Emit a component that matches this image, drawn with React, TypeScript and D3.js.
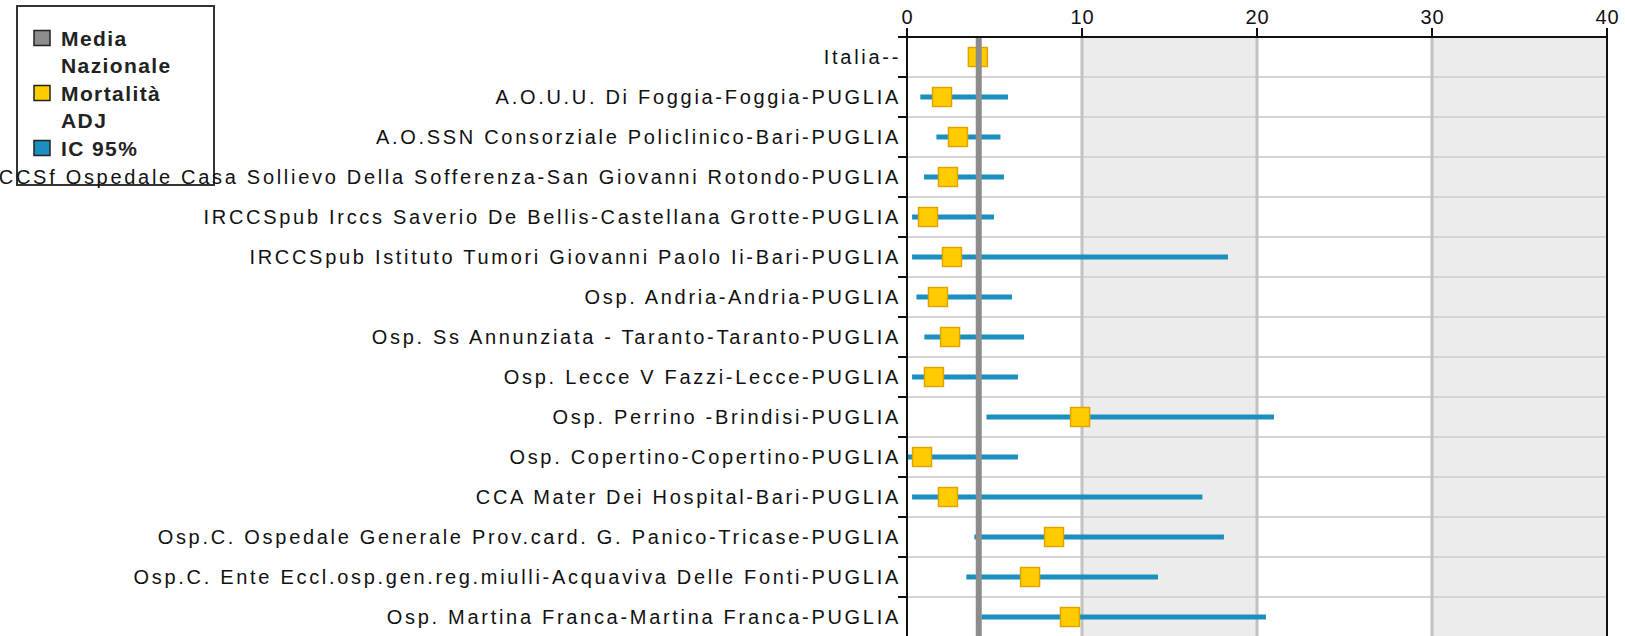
import React from "react";
import * as d3 from "d3";

const categories = [
  "Italia--",
  "A.O.U.U. Di Foggia-Foggia-PUGLIA",
  "A.O.SSN Consorziale Policlinico-Bari-PUGLIA",
  "IRCCSf Ospedale Casa Sollievo Della Sofferenza-San Giovanni Rotondo-PUGLIA",
  "IRCCSpub Irccs Saverio De Bellis-Castellana Grotte-PUGLIA",
  "IRCCSpub Istituto Tumori Giovanni Paolo Ii-Bari-PUGLIA",
  "Osp. Andria-Andria-PUGLIA",
  "Osp. Ss Annunziata - Taranto-Taranto-PUGLIA",
  "Osp. Lecce V Fazzi-Lecce-PUGLIA",
  "Osp. Perrino -Brindisi-PUGLIA",
  "Osp. Copertino-Copertino-PUGLIA",
  "CCA Mater Dei Hospital-Bari-PUGLIA",
  "Osp.C. Ospedale Generale Prov.card. G. Panico-Tricase-PUGLIA",
  "Osp.C. Ente Eccl.osp.gen.reg.miulli-Acquaviva Delle Fonti-PUGLIA",
  "Osp. Martina Franca-Martina Franca-PUGLIA",
];

const mortality = [4.05, 2.0, 2.91, 2.34, 1.2, 2.57, 1.77, 2.46, 1.54, 9.89, 0.86, 2.34, 8.4, 7.03, 9.31];
const ciLow = [null, 0.76, 1.68, 0.97, 0.29, 0.29, 0.54, 0.99, 0.29, 4.54, 0.05, 0.29, 3.85, 3.39, 4.25];
const ciHigh = [null, 5.77, 5.34, 5.54, 4.97, 18.34, 6.0, 6.69, 6.34, 20.97, 6.34, 16.88, 18.11, 14.34, 20.51];
const nationalMean = 4.1;

const xTicks = [0, 10, 20, 30, 40];
const legendItems = [
  { lines: ["Media", "Nazionale"], color: "#8c8c8c" },
  { lines: ["Mortalità", "ADJ"], color: "#ffcc00" },
  { lines: ["IC 95%"], color: "#1a8fc0" },
];

const W = 1625;
const H = 636;
const left = 907;
const right = 1607;
const top = 37;
const rowH = 40;

export default function App() {
  const x = d3.scaleLinear().domain([0, 40]).range([left, right]);
  const y = d3
    .scaleBand<string>()
    .domain(categories)
    .range([top, top + rowH * categories.length]);
  const bottom = top + rowH * categories.length;
  const bands = [
    [10, 20],
    [30, 40],
  ];
  const labelFont = "'Liberation Sans', Arial, sans-serif";
  const sq = 19;

  return (
    <div style={{ position: "absolute", left: 0, top: 0 }}>
      <svg width={W} height={H} style={{ display: "block", background: "#fff" }}>
        {bands.map(([a, b], i) => (
          <rect key={i} x={x(a)} y={top} width={x(b) - x(a)} height={bottom - top} fill="#ececec" />
        ))}
        {categories.slice(1).map((c) => (
          <line key={c} x1={left} x2={right} y1={y(c)!} y2={y(c)!} stroke="#d4d4d4" strokeWidth={2} />
        ))}
        {xTicks.slice(1, -1).map((t) => (
          <line key={t} x1={x(t)} x2={x(t)} y1={top} y2={bottom} stroke="#c2c2c2" strokeWidth={3} />
        ))}
        {categories.map((c, i) =>
          ciLow[i] == null ? null : (
            <line
              key={c}
              x1={x(ciLow[i] as number)}
              x2={x(ciHigh[i] as number)}
              y1={y(c)! + rowH / 2}
              y2={y(c)! + rowH / 2}
              stroke="#1a8fc0"
              strokeWidth={5}
            />
          )
        )}
        {categories.map((c, i) => (
          <rect
            key={c}
            x={x(mortality[i]) - sq / 2}
            y={y(c)! + rowH / 2 - sq / 2}
            width={sq}
            height={sq}
            fill="#ffcc00"
            stroke="#e0a400"
            strokeWidth={1.5}
          />
        ))}
        <line x1={x(nationalMean)} x2={x(nationalMean)} y1={top} y2={bottom} stroke="#8c8c8c" strokeWidth={6} />
        <line x1={x(40)} x2={x(40)} y1={top} y2={bottom} stroke="#111" strokeWidth={2} />
        <line x1={left - 9} x2={right + 1} y1={top} y2={top} stroke="#111" strokeWidth={2} />
        {xTicks.map((t) => (
          <g key={t}>
            <line x1={x(t)} x2={x(t)} y1={top - 9} y2={top} stroke="#111" strokeWidth={2} />
            <text
              x={x(t) + 0.5}
              y={24}
              textAnchor="middle"
              fontFamily={labelFont}
              fontSize={20}
              letterSpacing={1}
              fill="#111"
            >
              {t}
            </text>
          </g>
        ))}
        <line x1={left} x2={left} y1={top} y2={bottom} stroke="#111" strokeWidth={2} />
        {categories.map((c) => (
          <line key={c} x1={left - 9} x2={left} y1={y(c)!} y2={y(c)!} stroke="#111" strokeWidth={2} />
        ))}
        <rect x={17} y={6} width={197} height={179} fill="none" stroke="#333" strokeWidth={2} />
        {(() => {
          let line = 0;
          return legendItems.map((item, k) => {
            const startLine = line;
            line += item.lines.length;
            const base = 45.5 + startLine * 27.5;
            return (
              <g key={k}>
                <rect x={34} y={base - 15} width={16} height={15} fill={item.color} stroke="#222" strokeWidth={1.5} />
                {item.lines.map((t, j) => (
                  <text
                    key={j}
                    x={61}
                    y={base + j * 27.5}
                    fontFamily={labelFont}
                    fontWeight="bold"
                    fontSize={21}
                    letterSpacing={1.4}
                    fill="#222"
                  >
                    {t}
                  </text>
                ))}
              </g>
            );
          });
        })()}
        {categories.map((c) => (
          <text
            key={c}
            x={901}
            y={y(c)! + rowH / 2 + 7.3}
            textAnchor="end"
            fontFamily={labelFont}
            fontSize={20}
            letterSpacing={2.7}
            fill="#111"
          >
            {c}
          </text>
        ))}
      </svg>
    </div>
  );
}
